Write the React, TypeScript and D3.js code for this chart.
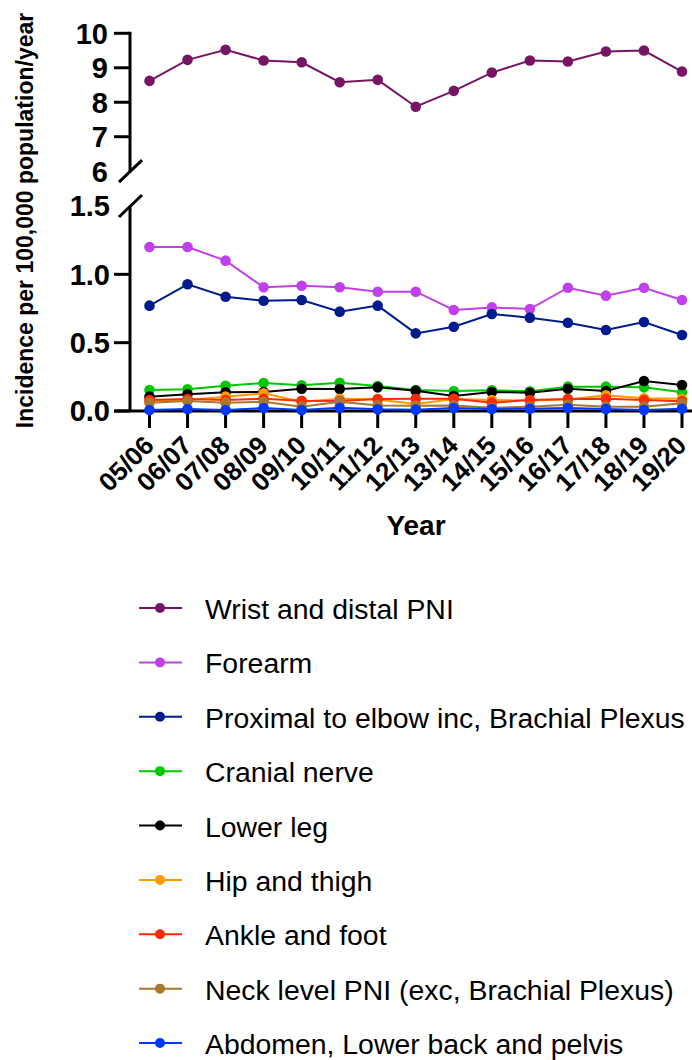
import React from 'react';
import * as d3 from 'd3';

// Financial-year categories on the x axis
const years = ['05/06', '06/07', '07/08', '08/09', '09/10', '10/11', '11/12', '12/13', '13/14', '14/15', '15/16', '16/17', '17/18', '18/19', '19/20'];

// Incidence per 100,000 population/year, one array per injury level
const wristDistal = [8.62, 9.23, 9.52, 9.21, 9.16, 8.58, 8.65, 7.87, 8.33, 8.86, 9.21, 9.18, 9.47, 9.5, 8.89];
const forearm = [1.2, 1.2, 1.1, 0.905, 0.917, 0.905, 0.873, 0.873, 0.739, 0.758, 0.746, 0.902, 0.844, 0.902, 0.812];
const proximalElbow = [0.771, 0.927, 0.836, 0.807, 0.812, 0.727, 0.771, 0.568, 0.617, 0.71, 0.683, 0.646, 0.593, 0.651, 0.556];
const cranialNerve = [0.154, 0.159, 0.185, 0.205, 0.188, 0.207, 0.183, 0.154, 0.146, 0.151, 0.144, 0.178, 0.178, 0.173, 0.137];
const lowerLeg = [0.105, 0.122, 0.137, 0.139, 0.163, 0.161, 0.173, 0.149, 0.11, 0.139, 0.134, 0.163, 0.146, 0.219, 0.19];
const hipThigh = [0.075, 0.08, 0.105, 0.129, 0.068, 0.09, 0.085, 0.051, 0.088, 0.08, 0.076, 0.085, 0.115, 0.093, 0.09];
const ankleFoot = [0.08, 0.088, 0.08, 0.09, 0.075, 0.073, 0.088, 0.09, 0.09, 0.061, 0.08, 0.088, 0.09, 0.08, 0.071];
const neckLevel = [0.061, 0.073, 0.061, 0.068, 0.032, 0.068, 0.041, 0.039, 0.041, 0.024, 0.032, 0.046, 0.032, 0.032, 0.056];
const abdomenPelvis = [0.007, 0.015, 0.007, 0.022, 0.007, 0.024, 0.012, 0.01, 0.022, 0.015, 0.017, 0.022, 0.015, 0.007, 0.017];

const seriesNames = [
  'Wrist and distal PNI',
  'Forearm',
  'Proximal to elbow inc, Brachial Plexus',
  'Cranial nerve',
  'Lower leg',
  'Hip and thigh',
  'Ankle and foot',
  'Neck level PNI (exc, Brachial Plexus)',
  'Abdomen, Lower back and pelvis',
];
const seriesValues = [wristDistal, forearm, proximalElbow, cranialNerve, lowerLeg, hipThigh, ankleFoot, neckLevel, abdomenPelvis];
const seriesColors = ['#771565', '#C041EC', '#001B8E', '#00C800', '#000000', '#FF9A00', '#FF2A00', '#A8782C', '#0038FF'];

// Axis tick values for the broken y axis
const topTicks = [10, 9, 8, 7];
const topLabels = [10, 9, 8, 7, 6];
const bottomTicks = [1.0, 0.5, 0.0];
const bottomLabels = [1.5, 1.0, 0.5, 0.0];

const FONT = "'Liberation Sans', Arial, Helvetica, sans-serif";

export default function App() {
  const axisX = 130;
  const x = d3.scalePoint<string>().domain(years).range([149.5, 682]);
  const yTop = d3.scaleLinear().domain([6, 10]).range([171.2, 33.3]);
  const yBot = d3.scaleLinear().domain([0, 1.5]).range([411, 206]);

  const lineFor = (scale: d3.ScaleLinear<number, number>) =>
    d3
      .line<number>()
      .x((_, i) => x(years[i]) as number)
      .y((d) => scale(d));

  const topLine = lineFor(yTop);
  const botLine = lineFor(yBot);

  const legendY = d3.scaleLinear().domain([0, 8]).range([608, 1043]);

  const breakSlash = (cy: number) => (
    <line x1={axisX - 11} y1={cy + 11} x2={axisX + 12} y2={cy - 11} stroke="#000" strokeWidth={3} />
  );

  return (
    <svg
      width={692}
      height={1060}
      style={{ position: 'absolute', left: 0, top: 0, display: 'block', background: '#fff' }}
      fontFamily={FONT}
    >
      <rect width={692} height={1060} fill="#fff" />

      {/* y axis title */}
      <text
        transform="translate(33,220.5) rotate(-90)"
        textAnchor="middle"
        fontSize={23}
        fontWeight="bold"
        fill="#000"
      >
        Incidence per 100,000 population/year
      </text>

      {/* upper segment of the broken y axis */}
      <line x1={axisX} x2={axisX} y1={yTop(10) - 1.5} y2={yTop(6)} stroke="#000" strokeWidth={3} />
      {topTicks.map((t) => (
        <line key={'tt' + t} x1={axisX - 16} x2={axisX} y1={yTop(t)} y2={yTop(t)} stroke="#000" strokeWidth={3} />
      ))}
      {topLabels.map((t) => (
        <text key={'tl' + t} x={108} y={yTop(t)} dy="0.36em" textAnchor="end" fontSize={29} fontWeight="bold" fill="#000">
          {t}
        </text>
      ))}
      {breakSlash(yTop(6))}

      {/* lower segment of the broken y axis */}
      <line x1={axisX} x2={axisX} y1={yBot(1.5)} y2={yBot(0)} stroke="#000" strokeWidth={3} />
      {bottomTicks.map((t) => (
        <line key={'bt' + t} x1={axisX - 16} x2={axisX} y1={yBot(t)} y2={yBot(t)} stroke="#000" strokeWidth={3} />
      ))}
      {bottomLabels.map((t) => (
        <text key={'bl' + t} x={110} y={yBot(t)} dy="0.36em" textAnchor="end" fontSize={29} fontWeight="bold" fill="#000">
          {t.toFixed(1)}
        </text>
      ))}
      {breakSlash(yBot(1.5))}

      {/* x axis */}
      <line x1={axisX - 16} x2={692} y1={yBot(0)} y2={yBot(0)} stroke="#000" strokeWidth={3} />
      {years.map((yr) => (
        <g key={yr}>
          <line x1={x(yr)} x2={x(yr)} y1={yBot(0)} y2={yBot(0) + 17} stroke="#000" strokeWidth={3} />
          <text
            transform={`translate(${(x(yr) as number) + 6},${447}) rotate(-45)`}
            textAnchor="end"
            fontSize={26}
            fontWeight="bold"
            fill="#000"
          >
            {yr}
          </text>
        </g>
      ))}
      <text x={416} y={535} textAnchor="middle" fontSize={28} fontWeight="bold" fill="#000">
        Year
      </text>

      {/* upper panel series */}
      <path d={topLine(wristDistal) as string} fill="none" stroke={seriesColors[0]} strokeWidth={2} />
      {wristDistal.map((v, i) => (
        <circle key={'w' + i} cx={x(years[i])} cy={yTop(v)} r={5.3} fill={seriesColors[0]} />
      ))}

      {/* lower panel series */}
      {seriesValues.slice(1).map((vals, k) => {
        const color = seriesColors[k + 1];
        return (
          <g key={'s' + k}>
            <path d={botLine(vals) as string} fill="none" stroke={color} strokeWidth={2} />
            {vals.map((v, i) => (
              <circle key={i} cx={x(years[i])} cy={yBot(v)} r={5.3} fill={color} />
            ))}
          </g>
        );
      })}

      {/* legend */}
      {seriesNames.map((name, i) => {
        const ly = legendY(i);
        return (
          <g key={name}>
            <line x1={139} x2={182} y1={ly} y2={ly} stroke={seriesColors[i]} strokeWidth={2} />
            <circle cx={160} cy={ly} r={5} fill={seriesColors[i]} />
            <text x={205} y={ly + 11} fontSize={28.4} fill="#000">
              {name}
            </text>
          </g>
        );
      })}
    </svg>
  );
}
